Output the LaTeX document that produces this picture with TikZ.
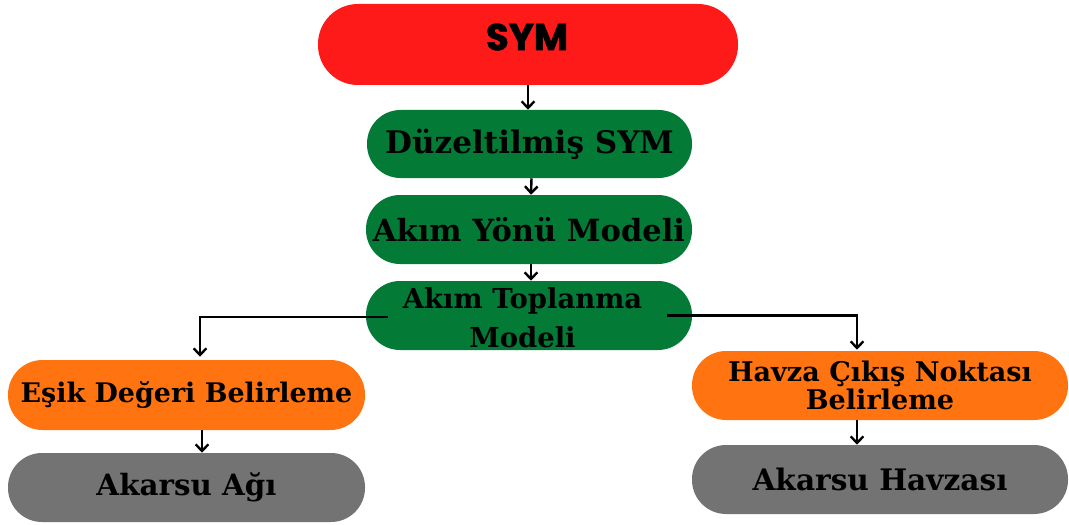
\documentclass[tikz,border=0pt]{standalone}
\usepackage{fontspec}
\setmainfont{DejaVu Serif}
\newfontfamily\symfont{Poppins}[BoldFeatures={FakeBold=1.5}]
\usetikzlibrary{arrows.meta}
\definecolor{cred}{RGB}{255,26,26}
\definecolor{cgreen}{RGB}{3,122,53}
\definecolor{corange}{RGB}{255,116,16}
\definecolor{cgray}{RGB}{115,115,115}
\tikzset{
  box/.style={rectangle, inner sep=0pt, minimum height=#1*0.75pt, rounded corners=#1*0.37pt, font=\bfseries, align=center},
  fs/.style={font=\fontsize{#1}{#1}\selectfont\bfseries},
  conn/.style={line width=1.8pt, -{Straight Barb[length=5pt,width=9.5pt,line width=1.8pt]}},
}
\begin{document}
\begin{tikzpicture}[x=0.75pt,y=-0.75pt]
\useasboundingbox (0,0) rectangle (1069,524);
\node[box=81, fill=cred, minimum width=420*0.75pt] (sym) at (528,44.5) {};
\node[font=\fontsize{28}{30}\symfont\bfseries, inner sep=0pt] (symt) at (527,37) {SYM};
\node[box=68, fill=cgreen, minimum width=325*0.75pt, fs=23.3] (duz) at (529.5,144) {Düzeltilmiş SYM};
\node[box=69, fill=cgreen, minimum width=326*0.75pt, fs=22.9] (yon) at (529,229.5) {Akım Yönü Modeli};
\node[box=69, fill=cgreen, minimum width=326*0.75pt] (top) at (529,315.5) {};
\node[align=center, inner sep=0pt, font=\fontsize{20.6}{29}\selectfont\bfseries] (topt) at (522.5,318) {Akım Toplanma\\Modeli};
\node[box=70, fill=corange, minimum width=357*0.75pt, fs=20.2] (esik) at (186.5,395) {Eşik Değeri Belirleme};
\node[box=69, fill=cgray, minimum width=357*0.75pt, fs=22] (ag) at (186.5,487.5) {Akarsu Ağı};
\node[box=69, fill=corange, minimum width=376*0.75pt, font=\fontsize{20.3}{20.5}\selectfont\bfseries] (havza) at (880,385.5) {Havza Çıkış Noktası\\Belirleme};
\node[box=69, fill=cgray, minimum width=376*0.75pt, fs=22.2] (havzasi) at (880,479.5) {Akarsu Havzası};
\coordinate (tl) at ([xshift=22*0.75pt,yshift=-1.5*0.75pt]top.west);
\coordinate (tr) at ([xshift=-25*0.75pt,yshift=0*0.75pt]top.east);
\draw[conn] (sym.south) -- (sym.south |- duz.north);
\draw[conn] ([xshift=1.5pt]duz.south) -- ([xshift=1.5pt]yon.north);
\draw[conn] ([xshift=1.5pt]yon.south) -- ([xshift=1.5pt]top.north);
\draw[conn] (tl) -| ([xshift=13.5*0.75pt,yshift=3*0.75pt]esik.north);
\draw[conn] (tr) -| ([xshift=-23*0.75pt,yshift=1*0.75pt]havza.north);
\draw[conn] ([xshift=15.5*0.75pt]esik.south) -- ([xshift=15.5*0.75pt]ag.north);
\draw[conn] ([xshift=-23*0.75pt]havza.south) -- ([xshift=-23*0.75pt]havzasi.north);
\end{tikzpicture}
\end{document}
